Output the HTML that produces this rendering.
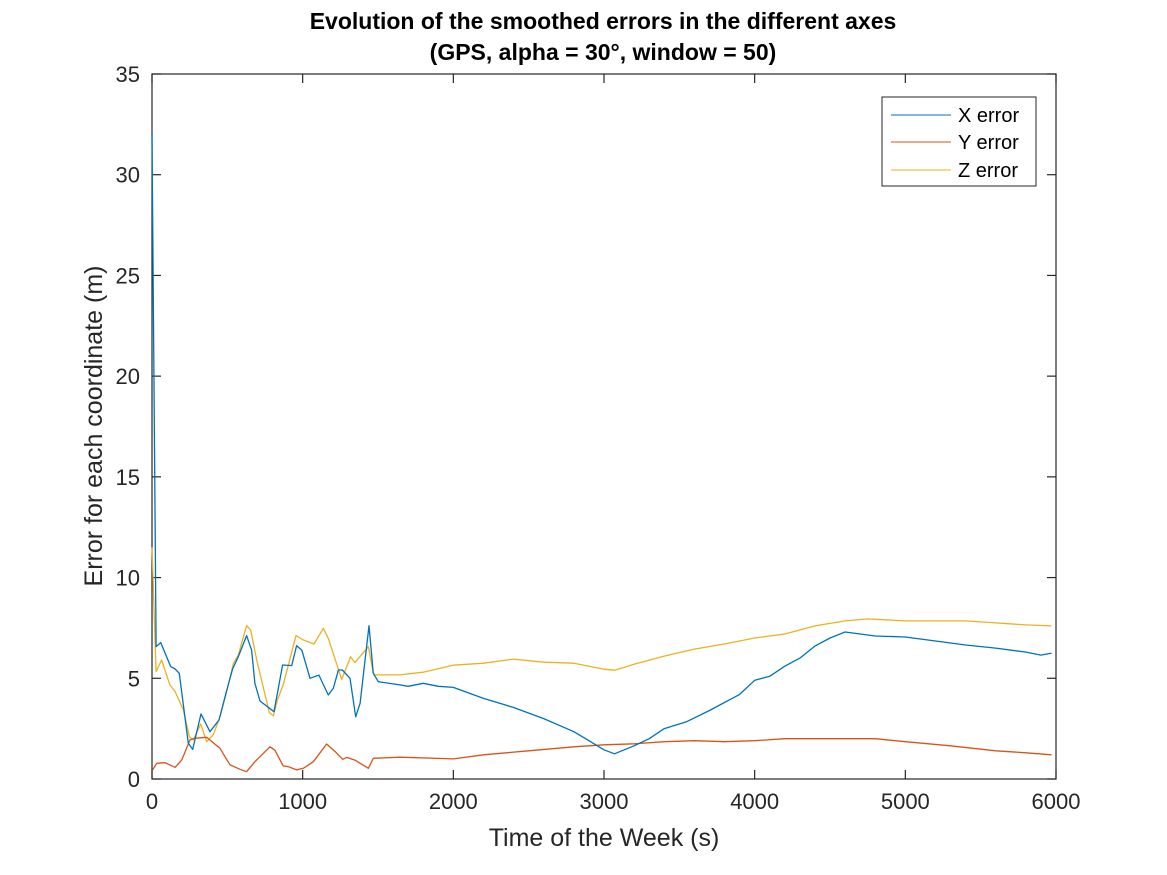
<!DOCTYPE html>
<html><head><meta charset="utf-8"><style>
body{margin:0;background:#fff;}
svg{display:block;font-family:"Liberation Sans",sans-serif;}
</style></head><body>
<svg id="chart" width="1167" height="875" xmlns="http://www.w3.org/2000/svg">
<text x="603" y="29" text-anchor="middle" font-size="23" font-weight="bold">Evolution of the smoothed errors in the different axes</text>
<text x="603" y="60" text-anchor="middle" font-size="23" font-weight="bold">(GPS, alpha = 30°, window = 50)</text>
<g id="axes"></g>
<g id="series"></g>
<text x="604" y="846" text-anchor="middle" font-size="25" fill="#262626">Time of the Week (s)</text>
<text transform="translate(102,426) rotate(-90)" text-anchor="middle" font-size="25" fill="#262626">Error for each coordinate (m)</text>
<g>
<rect x="882" y="97" width="154" height="89" fill="#fff" stroke="#262626" stroke-width="1"/>
<line x1="891" y1="115" x2="951" y2="115" stroke="#0072BD" stroke-width="1"/>
<text x="958" y="122" font-size="20" fill="#000">X error</text>
<line x1="891" y1="142" x2="951" y2="142" stroke="#D95319" stroke-width="1"/>
<text x="958" y="149" font-size="20" fill="#000">Y error</text>
<line x1="891" y1="170" x2="951" y2="170" stroke="#EDB120" stroke-width="1"/>
<text x="958" y="177" font-size="20" fill="#000">Z error</text>
</g>
</svg>
<script>
const xTicks=[0,1000,2000,3000,4000,5000,6000];
const yTicks=[0,5,10,15,20,25,30,35];
const xErrT=[0,27,58,124,153,181,241,270,325,385,445,491,535,573,628,661,683,717,810,867,927,960,994,1049,1108,1170,1203,1237,1263,1314,1352,1381,1440,1469,1502,1646,1700,1800,1900,2000,2200,2400,2600,2800,2900,3000,3070,3200,3300,3400,3550,3700,3900,4000,4100,4200,4300,4400,4500,4600,4800,5000,5200,5400,5600,5800,5900,5970];
const xErrV=[32,6.57,6.77,5.58,5.46,5.25,1.77,1.47,3.23,2.35,2.93,4.27,5.46,6.07,7.12,6.4,4.75,3.87,3.34,5.66,5.63,6.62,6.4,5.0,5.16,4.17,4.5,5.41,5.41,5.0,3.09,3.76,7.61,5.25,4.83,4.67,4.6,4.75,4.6,4.55,4.0,3.55,3.0,2.35,1.9,1.45,1.25,1.65,2.0,2.5,2.85,3.4,4.2,4.9,5.1,5.6,6.0,6.6,7.0,7.3,7.1,7.05,6.85,6.65,6.5,6.3,6.15,6.25];
const yErrT=[4,31,86,153,197,252,285,363,451,518,584,628,683,783,816,871,905,960,1004,1071,1159,1215,1266,1292,1347,1436,1469,1646,2000,2200,2500,2800,3000,3200,3400,3600,3800,4000,4200,4500,4800,5000,5300,5600,5800,5970];
const yErrV=[0.45,0.78,0.81,0.58,0.94,1.94,2.02,2.07,1.52,0.7,0.48,0.36,0.86,1.6,1.43,0.65,0.61,0.45,0.53,0.86,1.74,1.36,0.98,1.07,0.94,0.53,1.03,1.08,1.0,1.2,1.4,1.6,1.7,1.75,1.85,1.9,1.85,1.9,2.0,2.0,2.0,1.85,1.65,1.4,1.3,1.2];
const zErrT=[0,27,64,119,153,208,248,274,323,363,407,451,496,540,573,628,655,695,743,779,805,832,871,956,1004,1075,1137,1170,1259,1318,1347,1436,1469,1480,1646,1800,2000,2200,2400,2600,2800,3000,3070,3200,3400,3600,3800,4000,4200,4400,4600,4750,5000,5200,5400,5600,5800,5970];
const zErrV=[11.5,5.33,5.91,4.67,4.34,3.43,2.1,1.94,2.73,1.85,2.2,3.09,4.34,5.74,6.16,7.61,7.39,5.91,4.42,3.29,3.14,3.92,4.67,7.12,6.9,6.7,7.48,6.98,4.95,6.07,5.78,6.57,5.25,5.17,5.17,5.3,5.65,5.75,5.95,5.8,5.75,5.45,5.4,5.7,6.1,6.45,6.7,7.0,7.2,7.6,7.85,7.95,7.85,7.85,7.85,7.75,7.65,7.6];
const L=152,R=1056,T=74,B=779;
const sx=v=>L+(v-0)/6000*(R-L);
const sy=v=>B-v/35*(B-T);
const NS="http://www.w3.org/2000/svg";
const ax=document.getElementById('axes');
const ser=document.getElementById('series');
function mk(tag,attrs,parent){const e=document.createElementNS(NS,tag);for(const k in attrs)e.setAttribute(k,attrs[k]);parent.appendChild(e);return e;}
const frame=mk('rect',{x:L,y:T,width:R-L,height:B-T,fill:'none',stroke:'#262626','stroke-width':1.2},ax);


xTicks.forEach(v=>{
  const x=sx(v);
  const t1=mk('line',{x1:x,y1:B,x2:x,y2:B-9,stroke:'#262626','stroke-width':1.2},ax);
  
  
  const t2=mk('line',{x1:x,y1:T,x2:x,y2:T+9,stroke:'#262626','stroke-width':1.2},ax);
  
  
  const tx=mk('text',{x:x,y:B+30,'text-anchor':'middle','font-size':22,fill:'#262626'},ax);
  tx.textContent=v;
  
  
});
yTicks.forEach(v=>{
  const y=sy(v);
  const t1=mk('line',{x1:L,y1:y,x2:L+9,y2:y,stroke:'#262626','stroke-width':1.2},ax);
  
  
  const t2=mk('line',{x1:R,y1:y,x2:R-9,y2:y,stroke:'#262626','stroke-width':1.2},ax);
  
  
  const tx=mk('text',{x:L-12,y:y+8,'text-anchor':'end','font-size':22,fill:'#262626'},ax);
  tx.textContent=v;
  
  
});
function line(ts,vs,color,name){
  const d=ts.map((t,i)=>(i?'L':'M')+sx(t).toFixed(1)+','+sy(vs[i]).toFixed(1)).join('');
  const p=mk('path',{d:d,fill:'none',stroke:color,'stroke-width':1.3,'stroke-linejoin':'round'},ser);
  
  
}
line(zErrT,zErrV,'#EDB120','z-error-line');
line(yErrT,yErrV,'#D95319','y-error-line');
line(xErrT,xErrV,'#0072BD','x-error-line');
</script>
</body></html>
